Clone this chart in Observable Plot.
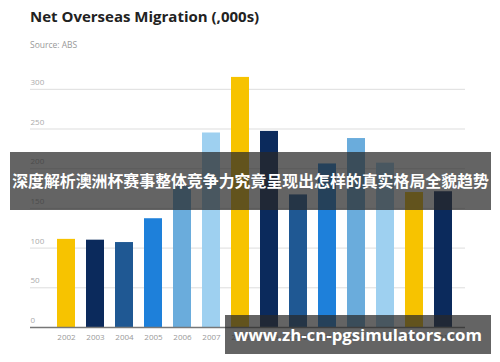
<!DOCTYPE html>
<html>
<head>
<meta charset="utf-8">
<script src="https://cdn.jsdelivr.net/npm/d3@7"></script>
<script src="https://cdn.jsdelivr.net/npm/@observablehq/plot@0.6"></script>
<style>
  html, body { margin: 0; padding: 0; background: #fff; }
  #wrap { position: relative; width: 500px; height: 362px; overflow: hidden; font-family: "Open Sans", "Noto Sans", sans-serif; }
  #title { position: absolute; left: 30px; top: 6px; font-size: 15px; font-weight: 700; color: #222; }
  #sub { position: absolute; left: 30px; top: 39px; font-size: 8.5px; color: #999; }
  #chart { position: absolute; left: 0; top: 55px; }
  .banner { position: absolute; background: rgba(40,40,40,0.72); color: #fff; font-weight: 700; white-space: nowrap; }
  #b1 { left: 10px; top: 152px; width: 481px; height: 58px; font-family: "Noto Sans CJK SC", sans-serif; font-size: 15.9px; line-height: 58px; text-align: center; }
  #b2 { left: 225px; top: 315px; width: 266px; height: 39px; font-family: "Open Sans", sans-serif; font-size: 16.8px; line-height: 39px; text-align: center; }
</style>
</head>
<body>
<div id="wrap">
  <div id="title">Net Overseas Migration (,000s)</div>
  <div id="sub">Source: ABS</div>
  <div id="chart"></div>
  <div class="banner" id="b1">深度解析澳洲杯赛事整体竞争力究竟呈现出怎样的真实格局全貌趋势</div>
  <div class="banner" id="b2">www.zh-cn-pgsimulators.com</div>
</div>
<script>
const years = ["2002","2003","2004","2005","2006","2007","2008","2009","2010","2011","2012","2013","2014","2015"];
const values = [111, 110, 107, 137, 178, 245, 315, 247, 167, 206, 238, 207, 170, 171];
const palette = ["#F7C300", "#0B2A5C", "#1F5893", "#1E80DA", "#6AACDC", "#9ED0F0"];
const yTicks = [0, 50, 100, 150, 200, 250, 300];

const data = years.map((y, i) => ({year: y, value: values[i], color: palette[i % palette.length]}));

const chart = Plot.plot({
  width: 500,
  height: 307,
  marginLeft: 30,
  marginRight: 22,
  marginTop: 10,
  marginBottom: 35,
  style: {background: "transparent", fontFamily: "Open Sans, sans-serif"},
  x: {domain: years, paddingInner: 0.39, paddingOuter: 0.78, axis: null},
  y: {domain: [0, 330], axis: null},
  marks: [
    Plot.ruleY(yTicks.filter(d => d > 0), {stroke: "#dddddd", strokeWidth: 1, insetRight: 13}),
    Plot.text(yTicks, {y: d => d, frameAnchor: "left", textAnchor: "start", dy: -7, text: d => String(d), fill: "#aaaaaa", fontSize: 8}),
    Plot.barY(data, {x: "year", y: "value", fill: "color"}),
    Plot.ruleY([0], {stroke: "#777777", strokeWidth: 1.5, insetRight: 13}),
    Plot.text(years, {x: d => d, frameAnchor: "bottom", dy: 12, text: d => d, fill: "#999999", fontSize: 8})
  ]
});
document.getElementById("chart").appendChild(chart);
</script>
</body>
</html>
